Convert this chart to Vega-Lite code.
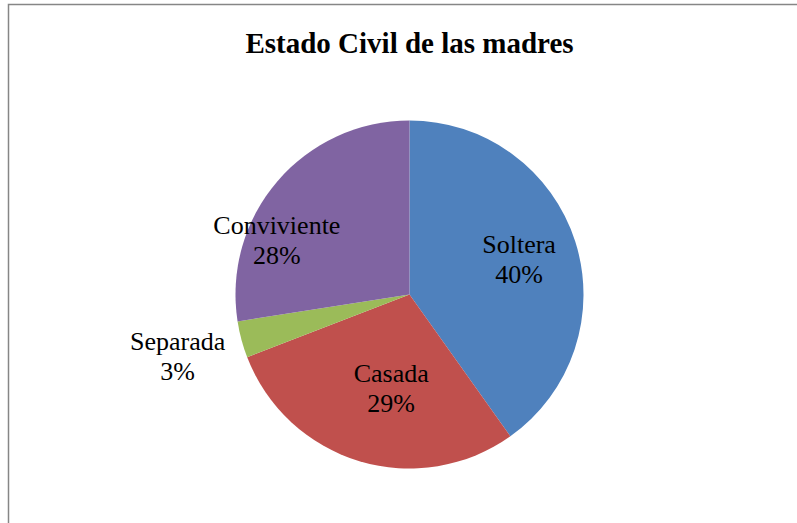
{
  "$schema": "https://vega.github.io/schema/vega-lite/v6.json",
  "autosize": "none",
  "width": 802,
  "height": 580,
  "padding": {"left": 8.5, "top": 4.5, "right": 0, "bottom": 0},
  "background": "white",
  "view": {"stroke": "#868686", "strokeWidth": 1.5, "fill": "white"},
  "config": {
    "view": {"stroke": "#868686", "strokeWidth": 1.5}
  },
  "title": {
    "text": "Estado Civil de las madres",
    "font": "Liberation Serif",
    "fontSize": 29,
    "fontWeight": "bold",
    "color": "black",
    "anchor": "middle",
    "frame": "group",
    "baseline": "alphabetic",
    "offset": -77
  },
  "data": {
    "values": [
      {"estado": "Soltera", "porcentaje": 40.2, "orden": 1, "etiqueta": "Soltera\n40%"},
      {"estado": "Casada", "porcentaje": 29.0, "orden": 2, "etiqueta": "Casada\n29%"},
      {"estado": "Separada", "porcentaje": 3.4, "orden": 3, "etiqueta": "Separada\n3%"},
      {"estado": "Conviviente", "porcentaje": 27.5, "orden": 4, "etiqueta": "Conviviente\n28%"}
    ]
  },
  "encoding": {
    "theta": {"field": "porcentaje", "type": "quantitative", "stack": true},
    "order": {"field": "orden", "type": "quantitative"}
  },
  "layer": [
    {
      "mark": {"type": "arc", "outerRadius": 174},
      "encoding": {
        "color": {
          "field": "estado",
          "type": "nominal",
          "scale": {
            "domain": ["Soltera", "Casada", "Separada", "Conviviente"],
            "range": ["#4F81BD", "#C0504D", "#9BBB59", "#8064A2"]
          },
          "legend": null
        }
      }
    },
    {
      "mark": {"type": "text", "radius": 115, "font": "Liberation Serif", "fontSize": 26, "lineBreak": "\n", "lineHeight": 30, "baseline": "middle", "dy": -15, "align": "center", "fill": "black"},
      "encoding": {
        "detail": {"field": "estado"},
        "text": {"condition": {"test": "datum.estado === 'Soltera'", "field": "etiqueta"}, "value": ""}
      }
    },
    {
      "mark": {"type": "text", "radius": 96, "thetaOffset": -0.1, "font": "Liberation Serif", "fontSize": 26, "lineBreak": "\n", "lineHeight": 30, "baseline": "middle", "dy": -15, "align": "center", "fill": "black"},
      "encoding": {
        "detail": {"field": "estado"},
        "text": {"condition": {"test": "datum.estado === 'Casada'", "field": "etiqueta"}, "value": ""}
      }
    },
    {
      "mark": {"type": "text", "radius": 240, "font": "Liberation Serif", "fontSize": 26, "lineBreak": "\n", "lineHeight": 30, "baseline": "middle", "dy": -15, "align": "center", "fill": "black"},
      "encoding": {
        "detail": {"field": "estado"},
        "text": {"condition": {"test": "datum.estado === 'Separada'", "field": "etiqueta"}, "value": ""}
      }
    },
    {
      "mark": {"type": "text", "radius": 143, "thetaOffset": -0.325, "font": "Liberation Serif", "fontSize": 26, "lineBreak": "\n", "lineHeight": 30, "baseline": "middle", "dy": -15, "align": "center", "fill": "black"},
      "encoding": {
        "detail": {"field": "estado"},
        "text": {"condition": {"test": "datum.estado === 'Conviviente'", "field": "etiqueta"}, "value": ""}
      }
    }
  ]
}
